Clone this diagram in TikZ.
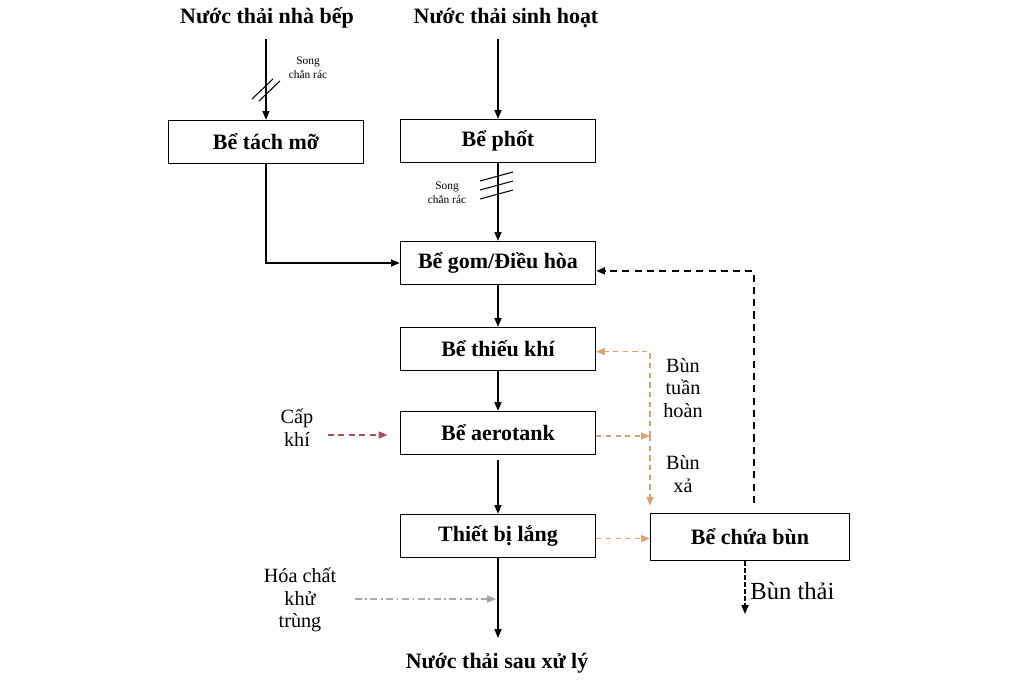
\documentclass[tikz,border=0pt]{standalone}
\usepackage{fontspec}
\setmainfont{Liberation Serif}
\usepackage{xcolor}
\usepackage{tikz}
\usetikzlibrary{arrows.meta}
\usetikzlibrary{positioning}
\definecolor{cam}{HTML}{D9A274}
\definecolor{mandat}{HTML}{A8505F}
\definecolor{xam}{HTML}{A6A6A6}
\tikzset{
    be/.style = {draw, line width=0.8pt, minimum width=3.9cm, minimum height=0.86cm,
                 inner sep=0pt, font=\fontsize{12.5}{15}\selectfont\bfseries},
    nhan/.style = {align=center, inner sep=0pt, font=\fontsize{11.5}{13}\selectfont},
    tua/.style = {inner sep=0pt, font=\fontsize{12.5}{15}\selectfont\bfseries},
    nho/.style = {align=center, inner sep=0pt, font=\fontsize{6.5}{8}\selectfont},
    dong/.style = {->, line width=0.8pt},
    bun/.style = {->, cam, line width=0.7pt, dash pattern=on 3pt off 2.5pt},
    >={Triangle[length=5pt,width=4pt]}
}
\begin{document}
\begin{tikzpicture}[x=0.02cm, y=-0.02cm]
                \useasboundingbox (0,0) rectangle (1024,682);
                \node (nuocbep) [tua] at (267,18) {Nước thải nhà bếp};
                \node (sinhhoat) [tua] at (506,18) {Nước thải sinh hoạt};
                \node (tachmo) [be] at (266,142) {Bể tách mỡ};
                \node (phot) [be] at (498,141) {Bể phốt};
                \node (gom) [be] at (498,263) {Bể gom/Điều hòa};
                \node (thieukhi) [be] at (498,349) {Bể thiếu khí};
                \node (aerotank) [be] at (498,433) {Bể aerotank};
                \node (lang) [be] at (498,536) {Thiết bị lắng};
                \node (chuabun) [be, minimum width=3.98cm, minimum height=0.94cm] at (750,537) {Bể chứa bùn};
                \node (daura) [tua] at (497,663) {Nước thải sau xử lý};
                \path[dong] ([yshift=-6pt]nuocbep.south -| tachmo) edge (tachmo)
                ([yshift=-6pt]sinhhoat.south -| phot) edge (phot)
                (phot) edge (gom)
                (gom) edge (thieukhi)
                (thieukhi) edge (aerotank);
                \draw[dong] (tachmo) |- (gom);
                \draw[dong, shorten <=3pt] (aerotank) -- (lang);
                \coordinate (ra) at (498,638);
                \draw[dong] (lang) -- (ra);
                % song chan rac
                \draw[line width=0.6pt] (252,99) -- (273,79) (259,101) -- (280,81);
                \node (song1) [nho] at (308,68) {Song\\chắn rác};
                \draw[line width=0.6pt] (480,181) -- (513,172) (480,190) -- (513,181) (480,199) -- (513,190);
                \node (song2) [nho] at (447,193) {Song\\chắn rác};
                % bun
                \coordinate (re) at (650,436);
                \draw[bun] (aerotank.east |- re) -- (re);
                \draw[bun] (re) |- ([yshift=-1.5pt]thieukhi.east);
                \draw[bun, shorten >=4pt] (re) -- (re |- chuabun.north);
                \draw[bun] ([yshift=-1.5pt]lang.east) -- ([yshift=-1.5pt]lang.east -| chuabun.west);
                \node (tuanhoan) [nhan] at (683,388) {Bùn\\tuần\\hoàn};
                \node (xa) [nhan] at (683,474) {Bùn\\xả};
                \coordinate (tra) at (754,503);
                \draw[->, line width=1pt, dash pattern=on 4pt off 3pt] (tra) |- ([yshift=-4.5pt]gom.east);
                \coordinate (thai) at (745,614);
                \draw[->, line width=0.7pt, dash pattern=on 2.5pt off 1.5pt] (chuabun.south -| thai) -- (thai);
                \node (bunthai) [nhan, anchor=west, font=\fontsize{14}{16}\selectfont] at (750,591) {Bùn thải};
                % cap khi, hoa chat
                \node (capkhi) [nhan] at (297,428) {Cấp\\khí};
                \draw[->, mandat, line width=0.8pt, dash pattern=on 3.5pt off 2.5pt] (capkhi.east) ++(14,7) coordinate (ck) (ck) -- ([xshift=-7pt]aerotank.west |- ck);
                \node (hoachat) [nhan] at (300,600) {Hóa chất\\khử\\trùng};
                \coordinate (vao) at (496,599);
                \draw[->, xam, line width=0.7pt, dash pattern=on 4pt off 2pt on 1pt off 2pt] (hoachat.east) ++(18,-1) coordinate (hc) (hc) -- (vao);
            \end{tikzpicture}
\end{document}
